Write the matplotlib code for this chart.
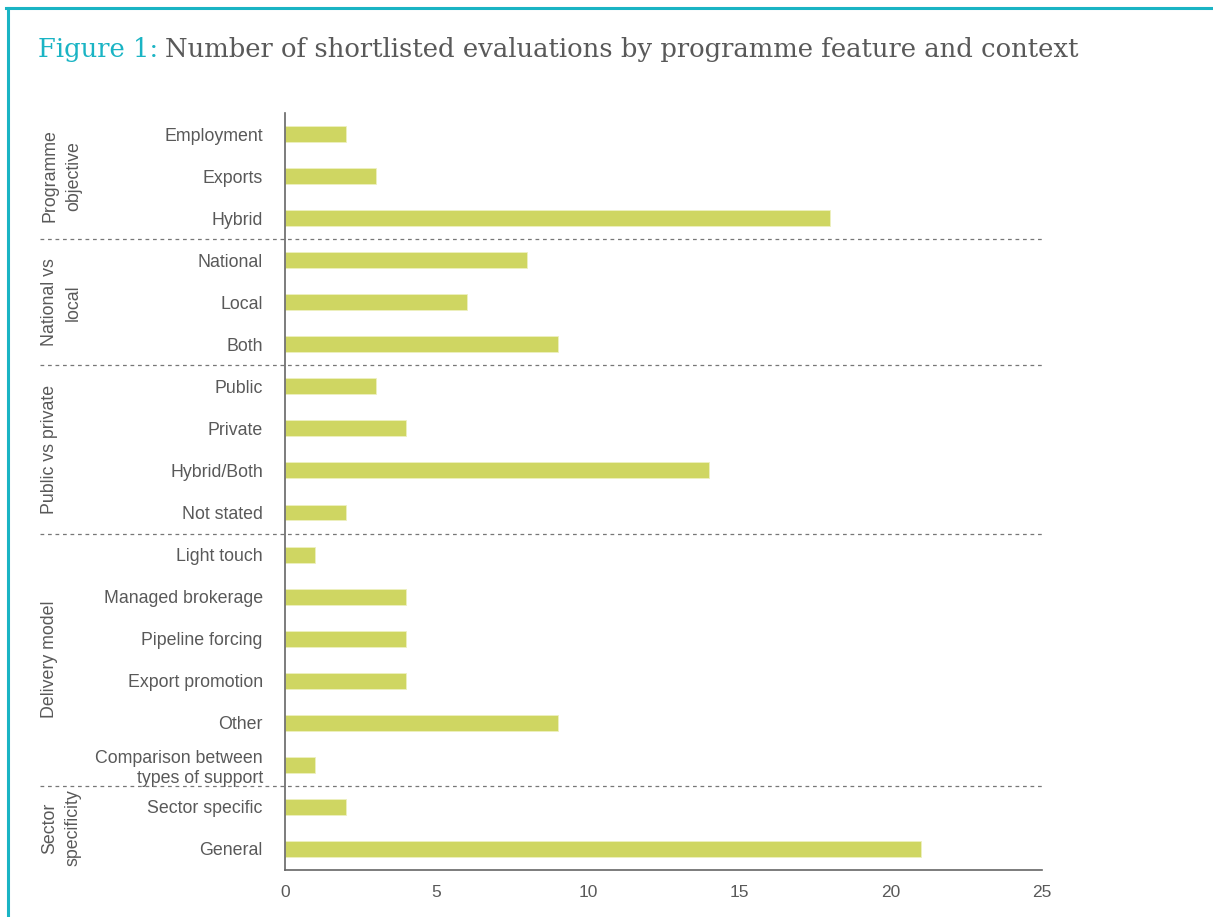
import matplotlib.pyplot as plt
from matplotlib.lines import Line2D

plt.rcParams["font.family"] = ["Liberation Sans", "DejaVu Sans"]

categories = ["Employment", "Exports", "Hybrid",
              "National", "Local", "Both",
              "Public", "Private", "Hybrid/Both", "Not stated",
              "Light touch", "Managed brokerage", "Pipeline forcing",
              "Export promotion", "Other", "Comparison between\ntypes of support",
              "Sector specific", "General"]
values = [2, 3, 18, 8, 6, 9, 3, 4, 14, 2, 1, 4, 4, 4, 9, 1, 2, 21]
groups = ["Programme\nobjective", "National vs\nlocal", "Public vs private",
          "Delivery model", "Sector\nspecificity"]
group_sizes = [3, 3, 4, 6, 2]

bar_color = "#cfd662"
text_gray = "#595959"
teal = "#1ab4c4"

fig = plt.figure(figsize=(12.13, 9.17), dpi=100)
ax = fig.add_axes([0.235, 0.0513, 0.624, 0.8255])

ypos = list(range(len(categories)))
ax.barh(ypos, values, height=0.38, color=bar_color, edgecolor="#eef0c0", linewidth=0.6)
ax.set_ylim(17.5, -0.5)
ax.set_xlim(0, 25)
ax.set_xticks([0, 5, 10, 15, 20, 25])
ax.set_yticks(ypos)
ax.set_yticklabels(categories, fontsize=12.8, color=text_gray, linespacing=1.25)
ax.tick_params(axis="both", length=0, colors=text_gray)
ax.tick_params(axis="y", labelsize=12.8, pad=16)
ax.tick_params(axis="x", labelsize=12.5, pad=11)
for s in ["top", "right"]:
    ax.spines[s].set_visible(False)
for s in ["left", "bottom"]:
    ax.spines[s].set_color("#666666")
    ax.spines[s].set_linewidth(1.2)

# group separators and group labels
start = 0
for i, (g, n) in enumerate(zip(groups, group_sizes)):
    end = start + n
    if i < len(groups) - 1:
        ax.plot([-8.1, 25], [end - 0.5, end - 0.5], ls=(0, (3, 3)), lw=0.9,
                color="#777777", clip_on=False)
    mid = (start + end - 1) / 2
    ax.text(-8.05, mid, g, rotation=90, ha="left", va="center",
            multialignment="center", fontsize=12.8, color=text_gray,
            linespacing=1.5)
    start = end

# title
t1 = fig.text(38 / 1213, 1 - 57 / 917, "Figure 1:", fontsize=18.6,
              family="DejaVu Serif", color=teal, va="baseline", ha="left")
fig.canvas.draw()
bb = t1.get_window_extent(fig.canvas.get_renderer())
fig.text(bb.x1 / fig.bbox.width + 0.006, 1 - 57 / 917,
         "Number of shortlisted evaluations by programme feature and context",
         fontsize=18.6, family="DejaVu Serif", color=text_gray, va="baseline",
         ha="left")

# teal frame
fig.add_artist(Line2D([6 / 1213, 1], [1 - 8 / 917, 1 - 8 / 917],
                      color=teal, lw=2.2, transform=fig.transFigure))
fig.add_artist(Line2D([8 / 1213, 8 / 1213], [0, 1 - 8 / 917],
                      color=teal, lw=2.2, transform=fig.transFigure))

fig.savefig("out.png", dpi=100)
